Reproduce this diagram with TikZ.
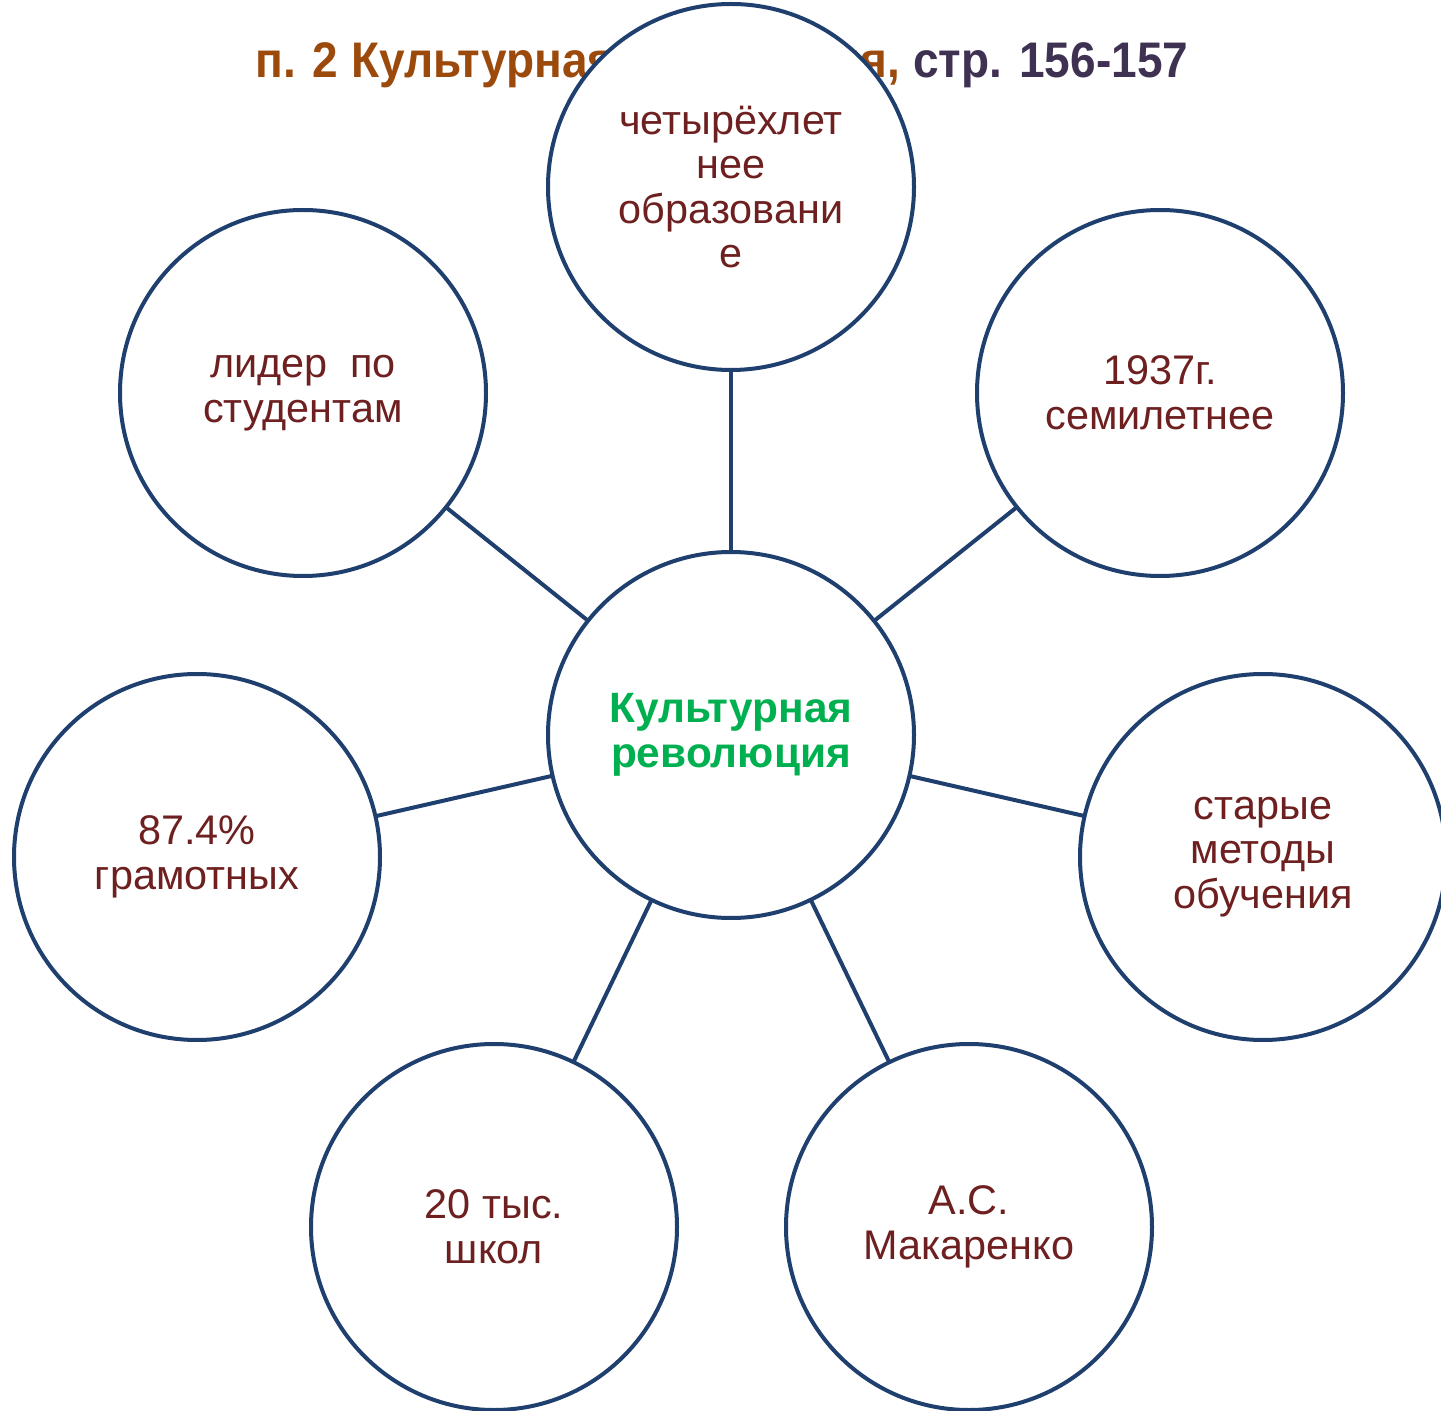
\documentclass[tikz,border=0pt]{standalone}
\usepackage{fontspec}
\setmainfont{Liberation Sans}
\newfontfamily\titlefont[FakeStretch=0.92]{Liberation Sans}
\definecolor{ringblue}{RGB}{31,63,110}
\definecolor{txtred}{RGB}{110,32,32}
\definecolor{ttlbrown}{RGB}{156,74,12}
\definecolor{ttlpurple}{RGB}{63,49,81}
\definecolor{ctrgreen}{RGB}{0,176,80}
\begin{document}
\begin{tikzpicture}[x=0.5pt,y=-0.5pt,
  bubble/.style={circle,draw=ringblue,line width=2pt,fill=white,minimum size=183pt,inner sep=0pt,
    align=center,text=txtred,font=\fontsize{20.7}{22.3}\selectfont},
  spoke/.style={draw=ringblue,line width=2pt}]
\useasboundingbox (0,0) rectangle (1441,1411);
\node[anchor=base west,inner sep=0pt,font=\titlefont\bfseries\fontsize{25}{28}\selectfont] (title) at (255,78)
  {\textcolor{ttlbrown}{п. 2 Культурная революция,} \textcolor{ttlpurple}{стр. 156-157}};
\coordinate (pc) at (731,735);
\coordinate (pt) at (731,187);
\coordinate (pul) at (303,393);
\coordinate (pur) at (1160,393);
\coordinate (pl) at (197,857);
\coordinate (pr) at (1263,857);
\coordinate (pbl) at (494,1227);
\coordinate (pbr) at (969,1227);
\foreach \p in {pt,pul,pur,pl,pr,pbl,pbr} \draw[spoke] (pc) -- (\p);
\node[bubble] (top) at (pt) {четырёхлет\\нее\\образовани\\е};
\node[bubble] (ul) at (pul) {лидер\ \ по\\студентам};
\node[bubble] (ur) at (pur) {1937г.\\семилетнее};
\node[bubble] (l) at (pl) {87.4\%\\грамотных};
\node[bubble] (r) at (pr) {старые\\методы\\обучения};
\node[bubble] (bl) at (pbl) {20 тыс.\\школ};
\node[bubble] (br) at (pbr) {А.С.\\Макаренко};
\node[bubble,text=ctrgreen,font=\bfseries\fontsize{21.2}{22.5}\selectfont] (c) at (pc) {Культурная\\революция};
\end{tikzpicture}
\end{document}
